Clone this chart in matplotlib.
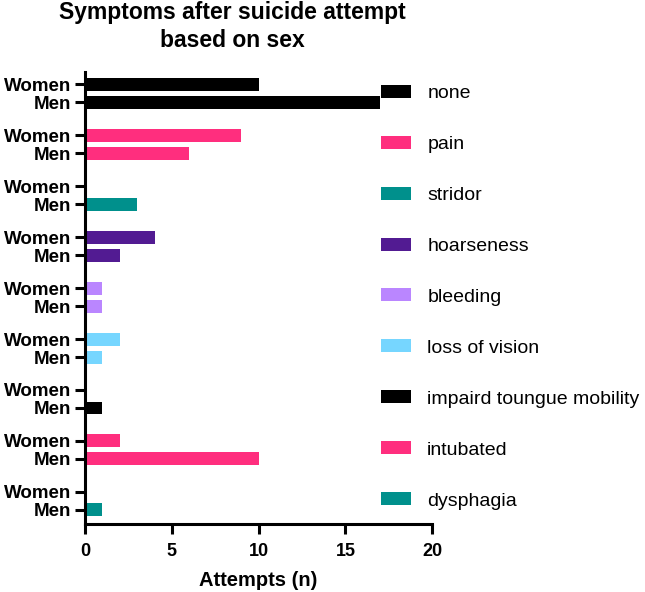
import numpy as np
import matplotlib.pyplot as plt
from matplotlib.patches import Patch

plt.rcParams['font.family'] = ['Liberation Sans', 'DejaVu Sans']

# data
symptoms = ['none', 'pain', 'stridor', 'hoarseness', 'bleeding', 'loss of vision',
            'impaird toungue mobility', 'intubated', 'dysphagia']
women = [10, 9, 0, 4, 1, 2, 0, 2, 0]
men = [17, 6, 3, 2, 1, 1, 1, 10, 1]
colors = ['#000000', '#FF2E7E', '#00908C', '#521B92', '#BA86FF', '#76D6FF',
          '#000000', '#FF2E7E', '#00908C']

fig = plt.figure(figsize=(6.45, 5.92), dpi=100)
ax = fig.add_axes([0.132, 0.115, 0.538, 0.763])

step = 2.833
idx = np.arange(len(symptoms))
y_w = idx * step
y_m = idx * step + 1

ax.barh(y_w, women, height=0.72, color=colors)
ax.barh(y_m, men, height=0.72, color=colors)

ax.set_ylim(y_m[-1] + 0.78, -0.67)
ax.set_xlim(0, 20)
ax.set_xticks([0, 5, 10, 15, 20])
yt = np.empty(2 * len(idx))
yt[0::2] = y_w
yt[1::2] = y_m
ax.set_yticks(yt)
ax.set_yticklabels(['Women', 'Men'] * len(idx))

for s in ['top', 'right']:
    ax.spines[s].set_visible(False)
for s in ['left', 'bottom']:
    ax.spines[s].set_linewidth(2.2)
ax.tick_params(width=2.2, length=7)
ax.tick_params(axis='y', labelsize=13.5, pad=3)
ax.tick_params(axis='x', labelsize=13, pad=7)
for lab in ax.get_xticklabels() + ax.get_yticklabels():
    lab.set_fontweight('bold')
ax.set_xlabel('Attempts (n)', fontsize=14.5, fontweight='bold', labelpad=8)

fig.text(0.36, 0.999, 'Symptoms after suicide attempt\nbased on sex', ha='center', va='top',
         fontsize=16.5, fontweight='bold', linespacing=1.28)

handles = [Patch(facecolor=c, label=s) for c, s in zip(colors, symptoms)]
fig.legend(handles=handles, loc='upper left', bbox_to_anchor=(0.59, 0.857), frameon=False,
           fontsize=14, handlelength=1.55, handleheight=0.65, handletextpad=0.85,
           labelspacing=1.73, borderpad=0, borderaxespad=0)

fig.savefig('out.png', dpi=100)
